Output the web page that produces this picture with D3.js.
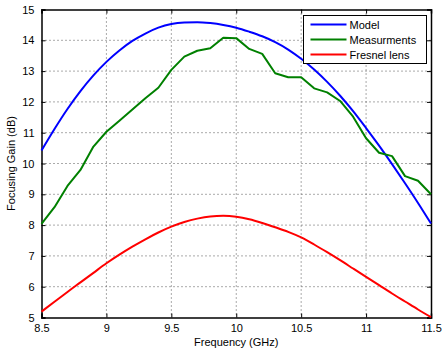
<!DOCTYPE html>
<html>
<head>
<meta charset="utf-8">
<script src="https://cdn.jsdelivr.net/npm/d3@7"></script>
<style>
  body { margin: 0; background: #fff; }
  text { font-family: "Liberation Sans", Arial, sans-serif; }
</style>
</head>
<body>
<div id="chart"></div>
<script>
// frequency samples (GHz)
const freq = [8.5, 8.6, 8.7, 8.8, 8.9, 9.0, 9.1, 9.2, 9.3, 9.4, 9.5, 9.6, 9.7, 9.8, 9.9, 10.0,
              10.1, 10.2, 10.3, 10.4, 10.5, 10.6, 10.7, 10.8, 10.9, 11.0, 11.1, 11.2, 11.3, 11.4, 11.5];

const model = [10.42, 11.12, 11.77, 12.35, 12.86, 13.3, 13.67, 13.98, 14.22, 14.41, 14.53, 14.58, 14.59, 14.56, 14.5, 14.41,
               14.28, 14.13, 13.94, 13.7, 13.4, 13.05, 12.65, 12.2, 11.7, 11.15, 10.58, 9.98, 9.36, 8.72, 8.05];

const measured = [8.04, 8.58, 9.27, 9.79, 10.55, 11.03, 11.39, 11.75, 12.12, 12.46, 13.04, 13.47, 13.66, 13.74, 14.08, 14.07,
                  13.72, 13.56, 12.93, 12.8, 12.8, 12.44, 12.31, 12.03, 11.52, 10.82, 10.35, 10.24, 9.59, 9.44, 9.0];

const fresnel = [5.19, 5.51, 5.83, 6.14, 6.45, 6.76, 7.04, 7.3, 7.54, 7.76, 7.95, 8.1, 8.21, 8.28, 8.3, 8.27,
                 8.19, 8.07, 7.93, 7.78, 7.6, 7.37, 7.12, 6.86, 6.59, 6.32, 6.05, 5.78, 5.52, 5.26, 5.01];

const xTicks = [8.5, 9, 9.5, 10, 10.5, 11, 11.5];
const yTicks = [5, 6, 7, 8, 9, 10, 11, 12, 13, 14, 15];

const series = [
  {name: 'Model', values: model, color: '#0000ff', smooth: true},
  {name: 'Measurments', values: measured, color: '#008000', smooth: false},
  {name: 'Fresnel lens', values: fresnel, color: '#ff0000', smooth: true},
];

const width = 442, height = 354;
const margin = {left: 41.5, right: 11, top: 9.5, bottom: 36.5};
const innerW = width - margin.left - margin.right;
const innerH = height - margin.top - margin.bottom;

const svg = d3.select('#chart').append('svg')
    .attr('width', width)
    .attr('height', height);

const g = svg.append('g')
    .attr('transform', `translate(${margin.left},${margin.top})`);

const x = d3.scaleLinear().domain([8.5, 11.5]).range([0, innerW]);
const y = d3.scaleLinear().domain([5, 15]).range([innerH, 0]);

// dotted grid
g.append('g').selectAll('line').data(xTicks.slice(1, -1)).enter().append('line')
    .attr('x1', d => x(d)).attr('x2', d => x(d))
    .attr('y1', 0).attr('y2', innerH)
    .attr('stroke', '#555').attr('stroke-width', 1)
    .attr('stroke-dasharray', '1,3');
g.append('g').selectAll('line').data(yTicks.slice(1, -1)).enter().append('line')
    .attr('y1', d => y(d)).attr('y2', d => y(d))
    .attr('x1', 0).attr('x2', innerW)
    .attr('stroke', '#555').attr('stroke-width', 1)
    .attr('stroke-dasharray', '1,3');

// axes with inward ticks
const fmt = d => String(d);
g.append('g').attr('transform', `translate(0,${innerH})`)
    .call(d3.axisBottom(x).tickValues(xTicks).tickSize(-4).tickPadding(7).tickFormat(fmt));
g.append('g')
    .call(d3.axisTop(x).tickValues(xTicks).tickSize(-4).tickFormat(''));
g.append('g')
    .call(d3.axisLeft(y).tickValues(yTicks).tickSize(-4).tickPadding(7).tickFormat(fmt));
g.append('g').attr('transform', `translate(${innerW},0)`)
    .call(d3.axisRight(y).tickValues(yTicks).tickSize(-4).tickFormat(''));

g.selectAll('.domain').attr('stroke', '#000').attr('stroke-width', 1.5);
g.selectAll('.tick line').attr('stroke', '#000');
g.selectAll('.tick text').attr('font-size', 11).attr('fill', '#000')
    .attr('font-family', '"Liberation Sans", Arial, sans-serif');

// lines: model and lens are smooth, measurements piecewise linear
const lineFor = s => d3.line()
    .x((d, i) => x(freq[i]))
    .y(d => y(d))
    .curve(s.smooth ? d3.curveMonotoneX : d3.curveLinear);

g.append('g').selectAll('path').data(series).enter().append('path')
    .attr('d', d => lineFor(d)(d.values))
    .attr('fill', 'none')
    .attr('stroke', d => d.color)
    .attr('stroke-width', 2)
    .attr('stroke-linejoin', 'round');

// axis labels
svg.append('text')
    .attr('x', margin.left + innerW / 2)
    .attr('y', 346)
    .attr('text-anchor', 'middle')
    .attr('font-size', 11)
    .text('Frequency (GHz)');

svg.append('text')
    .attr('transform', `translate(15,${margin.top + innerH / 2}) rotate(-90)`)
    .attr('text-anchor', 'middle')
    .attr('font-size', 11)
    .text('Focusing Gain (dB)');

// legend
const legend = svg.append('g').attr('transform', 'translate(303.5,15.5)');
legend.append('rect')
    .attr('width', 123).attr('height', 48)
    .attr('fill', '#fff').attr('stroke', '#000').attr('stroke-width', 1);

const item = legend.selectAll('.item').data(series).enter().append('g')
    .attr('transform', (d, i) => `translate(0,${9 + i * 15})`);
item.append('line')
    .attr('x1', 7).attr('x2', 43)
    .attr('stroke', d => d.color).attr('stroke-width', 2);
item.append('text')
    .attr('x', 46).attr('y', 4)
    .attr('font-size', 11)
    .text(d => d.name);
</script>
</body>
</html>
